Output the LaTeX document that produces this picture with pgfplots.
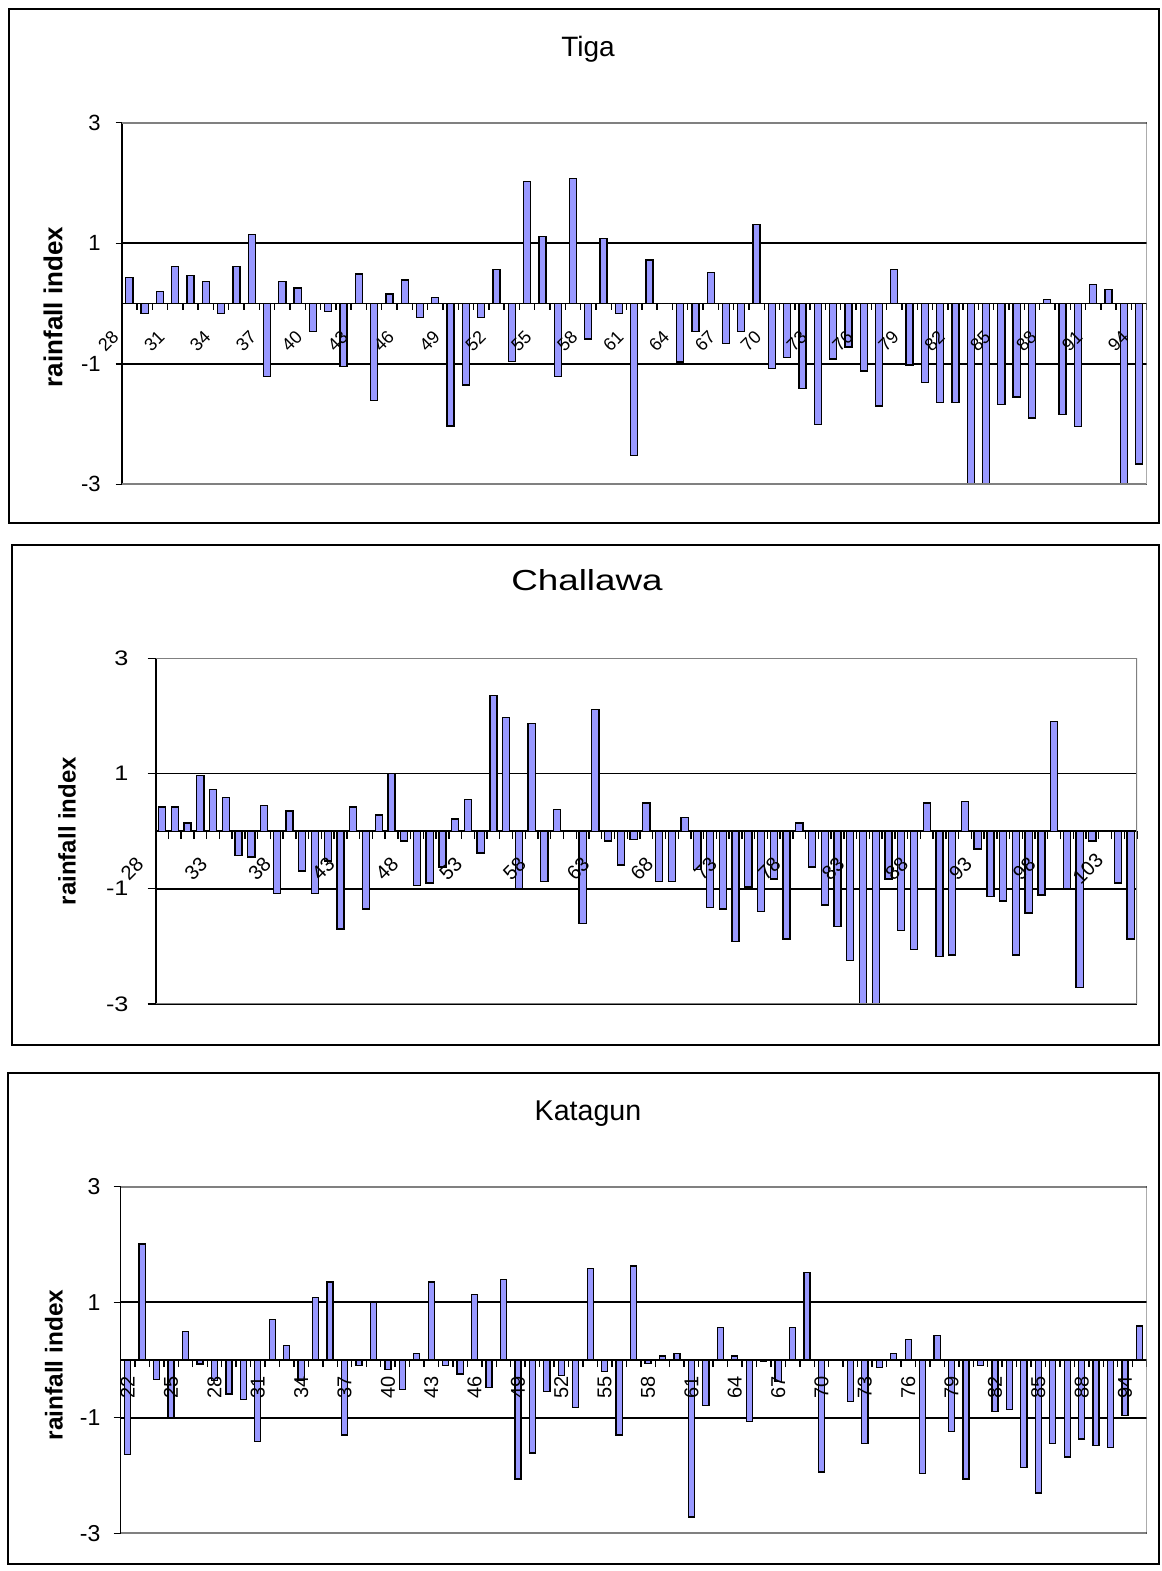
\documentclass[border=0pt]{standalone}
\usepackage{fontspec}
\setmainfont{Liberation Sans}
\usepackage{pgfplots}
\pgfplotsset{compat=1.18}
\usepackage{pgfplotstable}
\definecolor{barblue}{RGB}{153,153,255}
\definecolor{framegray}{RGB}{128,128,128}

\pgfplotsset{
  layers/labelsontop/.define layer set={
    axis background,axis grid,axis ticks,axis lines,main,axis tick labels,axis descriptions,axis foreground
  }{/pgfplots/layers/standard},
  set layers=labelsontop,
}

\pgfplotstableread{
x y
28 0.43
29 -0.16
30 0.20
31 0.62
32 0.46
33 0.36
34 -0.16
35 0.62
36 1.15
37 -1.21
38 0.36
39 0.26
40 -0.46
41 -0.13
42 -1.05
43 0.49
44 -1.61
45 0.16
46 0.39
47 -0.23
48 0.10
49 -2.03
50 -1.35
51 -0.23
52 0.56
53 -0.96
54 2.03
55 1.11
56 -1.21
57 2.07
58 -0.59
59 1.08
60 -0.16
61 -2.52
62 0.72
63 0
64 -0.97
65 -0.46
66 0.52
67 -0.66
68 -0.46
69 1.31
70 -1.08
71 -0.89
72 -1.41
73 -2.01
74 -0.92
75 -0.72
76 -1.12
77 -1.70
78 0.56
79 -1.02
80 -1.31
81 -1.64
82 -1.64
83 -3.00
84 -3.05
85 -1.68
86 -1.55
87 -1.90
88 0.07
89 -1.84
90 -2.04
91 0.32
92 0.23
93 -3.05
94 -2.66
}\tiga

\pgfplotstableread{
x y
28 0.42
29 0.42
30 0.14
31 0.97
32 0.72
33 0.58
34 -0.42
35 -0.45
36 0.45
37 -1.08
38 0.35
39 -0.69
40 -1.08
41 -0.52
42 -1.70
43 0.42
44 -1.35
45 0.28
46 1.00
47 -0.17
48 -0.94
49 -0.90
50 -0.62
51 0.21
52 0.55
53 -0.38
54 2.35
55 1.97
56 -0.99
57 1.87
58 -0.87
59 0.38
60 0
61 -1.60
62 2.11
63 -0.17
64 -0.59
65 -0.14
66 0.49
67 -0.87
68 -0.87
69 0.24
70 -0.66
71 -1.32
72 -1.35
73 -1.91
74 -0.97
75 -1.39
76 -0.83
77 -1.87
78 0.14
79 -0.62
80 -1.28
81 -1.66
82 -2.25
83 -3.05
84 -3.05
85 -0.83
86 -1.73
87 -2.05
88 0.49
89 -2.17
90 -2.15
91 0.52
92 -0.31
93 -1.14
94 -1.21
95 -2.15
96 -1.42
97 -1.11
98 1.90
99 -0.99
100 -2.71
101 -0.17
102 0
103 -0.90
104 -1.87
}\challawa

\pgfplotstableread{
x y
1 -1.63
2 2.01
3 -0.34
4 -0.99
5 0.49
6 -0.07
7 -0.36
8 -0.59
9 -0.68
10 -1.41
11 0.70
12 0.25
13 -0.36
14 1.08
15 1.35
16 -1.30
17 -0.10
18 0.99
19 -0.17
20 -0.51
21 0.11
22 1.35
23 -0.10
24 -0.24
25 1.14
26 -0.48
27 1.39
28 -2.06
29 -1.61
30 -0.55
31 -0.27
32 -0.82
33 1.59
34 -0.20
35 -1.30
36 1.63
37 -0.06
38 0.07
39 0.11
40 -2.72
41 -0.79
42 0.56
43 0.07
44 -1.06
45 -0.03
46 -0.37
47 0.56
48 1.52
49 -1.94
50 0
51 -0.72
52 -1.44
53 -0.13
54 0.11
55 0.35
56 -1.96
57 0.42
58 -1.24
59 -2.06
60 -0.10
61 -0.89
62 -0.86
63 -1.86
64 -2.30
65 -1.44
66 -1.68
67 -1.37
68 -1.48
69 -1.51
70 -0.96
71 0.59
}\katagun

\pgfplotsset{
  rainstyle/.style={
    scale only axis,
    anchor=south west,
    ymin=-3, ymax=3,
    ytick={-3,-1,1,3},
    yticklabels={-3,-1,1,3},
    axis x line=middle,
    axis y line=left,
    axis line style={-, black, line width=0.8pt},
    ymajorgrids,
    grid style={black, line width=0.8pt},
    xtick align=outside,
    ytick align=outside,
    tick style={black, line width=0.7pt},
    xticklabels={},
    extra x tick style={major tick length=0pt, grid=none},
    clip=true,
  },
}

\begin{document}
\begin{tikzpicture}
\path (0,0) rectangle (581pt,785.5pt);

% frames
\draw[line width=1pt] (4.5pt,524pt) rectangle (579.5pt,780.75pt);
\draw[line width=1pt] (5.85pt,263pt) rectangle (579.5pt,513pt);
\draw[line width=1pt] (4.15pt,3.5pt) rectangle (579.5pt,248.85pt);

% titles
\node[font=\fontsize{14}{16}\selectfont, anchor=base] at (294pt,757.15pt) {Tiga};
\node[font=\fontsize{14.5}{16}\selectfont, anchor=base, xscale=1.27] at (293.5pt,490pt) {Challawa};
\node[font=\fontsize{14.3}{16}\selectfont, anchor=base] at (294pt,225.15pt) {Katagun};

% y labels
\node[font=\bfseries\fontsize{13}{15}\selectfont, rotate=90] at (26.5pt,632pt) {rainfall index};
\node[font=\bfseries\fontsize{12}{14}\selectfont, rotate=90] at (33.5pt,370pt) {rainfall index};
\node[font=\bfseries\fontsize{12.2}{14}\selectfont, rotate=90] at (27pt,103pt) {rainfall index};

% ---- Tiga
\begin{axis}[rainstyle,
  at={(60.85pt,543.3pt)}, width=512.5pt, height=180.85pt,
  xmin=27.5, xmax=94.5,
  major tick length=3pt,
  xtick={27.5,28.5,...,94.5},
  extra x ticks={28,31,...,94},
  extra x tick labels={28,31,34,37,40,43,46,49,52,55,58,61,64,67,70,73,76,79,82,85,88,91,94},
  extra x tick style={xticklabel style={font=\fontsize{9}{9}\selectfont, anchor=center, xshift=-10.5pt, yshift=-18.7pt, rotate=45}},
  yticklabel style={font=\fontsize{11}{11}\selectfont, xshift=-4pt},
]
\addplot[ybar, bar width=0.46, fill=barblue, draw=black, line width=0.65pt] table[x=x,y=y]{\tiga};
\draw[framegray, line width=1pt] (rel axis cs:0,1) -- (rel axis cs:1,1) -- (rel axis cs:1,0) -- (rel axis cs:0,0);
\end{axis}

% ---- Challawa
\begin{axis}[rainstyle,
  at={(77.85pt,283.5pt)}, width=490.65pt, height=172.85pt,
  xmin=27.5, xmax=104.5,
  major tick length=4pt,
  xtick={27.5,28.5,...,104.5},
  extra x ticks={28,33,...,103},
  extra x tick labels={28,33,38,43,48,53,58,63,68,73,78,83,88,93,98,103},
  extra x tick style={xticklabel style={font=\fontsize{10}{10}\selectfont, anchor=center, xshift=-15pt, yshift=-18.7pt, rotate=45}},
  yticklabel style={font=\fontsize{10.5}{10.5}\selectfont, xscale=1.2, xshift=-4.5pt},
]
\addplot[ybar, bar width=0.56, fill=barblue, draw=black, line width=0.65pt] table[x=x,y=y]{\challawa};
\draw[framegray, line width=1pt] (rel axis cs:0,1) -- (rel axis cs:1,1) -- (rel axis cs:1,0) -- (rel axis cs:0,0);
\end{axis}

% ---- Katagun
\begin{axis}[rainstyle,
  at={(60.25pt,18.85pt)}, width=513.1pt, height=173.3pt,
  xmin=0.5, xmax=71.5,
  major tick length=3.5pt,
  xtick={0.5,1.5,...,71.5},
  extra x ticks={1,4,...,70},
  extra x tick labels={22,25,28,31,34,37,40,43,46,49,52,55,58,61,64,67,70,73,76,79,82,85,88,94},
  extra x tick style={xticklabel style={font=\fontsize{10}{10}\selectfont, anchor=center, yshift=-13.5pt, rotate=90}},
  yticklabel style={font=\fontsize{11.5}{11.5}\selectfont, xshift=-3pt},
]
\addplot[ybar, bar width=0.42, fill=barblue, draw=black, line width=0.65pt] table[x=x,y=y]{\katagun};
\draw[framegray, line width=1pt] (rel axis cs:0,1) -- (rel axis cs:1,1) -- (rel axis cs:1,0) -- (rel axis cs:0,0);
\end{axis}
\end{tikzpicture}
\end{document}
